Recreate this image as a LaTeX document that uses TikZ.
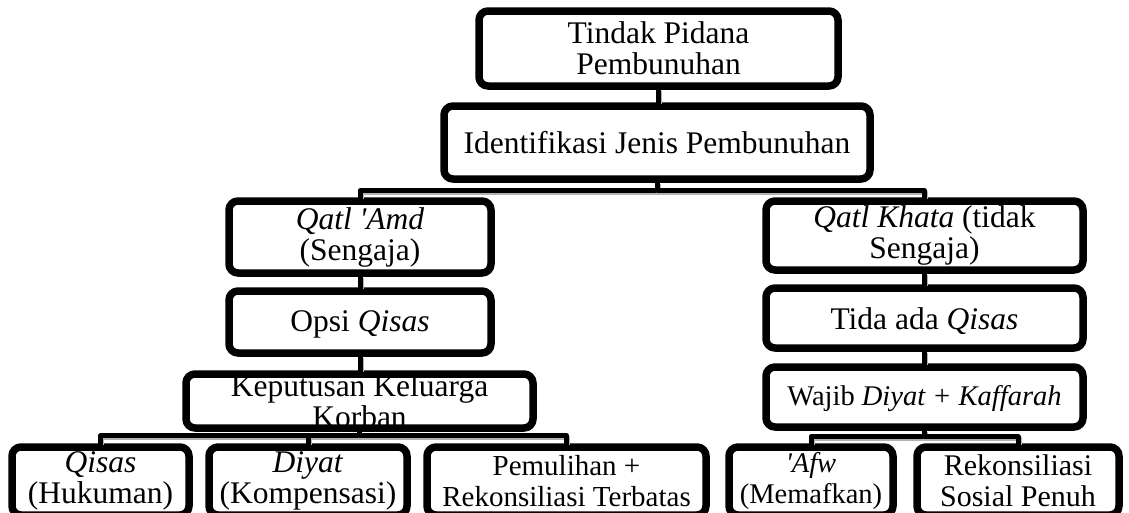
\documentclass[tikz,border=0pt]{standalone}
\usepackage{fontspec}
\setmainfont{Liberation Serif}
\usepackage{tikz}
\usetikzlibrary{shadows}

\tikzset{
  box/.style={draw, line width=7.5pt, rounded corners=9pt, fill=white, inner sep=0pt,
    drop shadow={shadow xshift=1.5pt, shadow yshift=-1.5pt, fill=black, opacity=0.3}},
  txt/.style={align=center, inner sep=0pt, font=\fontsize{31.5}{31}\selectfont},
  link/.style={line width=5pt, line cap=rect,
    preaction={draw, black!30, line width=5pt, transform canvas={shift={(1.2pt,-1.5pt)}}}}
}

\begin{document}
\begin{tikzpicture}[line join=round, x=1pt, y=-1pt]
\useasboundingbox (0,0) rectangle (1129,512);
\clip (0,0) rectangle (1129,512);

\node[box, minimum width=359pt, minimum height=75pt] (top) at (658.5,48.5) {};
\node[box, minimum width=426pt, minimum height=73pt] (ident) at (657,142.5) {};
\node[box, minimum width=262pt, minimum height=72pt] (amd) at (360,237) {};
\node[box, minimum width=262pt, minimum height=62pt] (opsi) at (360,322) {};
\node[box, minimum width=347pt, minimum height=54pt] (kep) at (359.5,401) {};
\node[box, minimum width=317pt, minimum height=69pt] (khata) at (924.5,235.5) {};
\node[box, minimum width=317pt, minimum height=60pt] (tida) at (924.5,318) {};
\node[box, minimum width=317pt, minimum height=60pt] (wajib) at (924.5,397) {};
\node[box, minimum width=177pt, minimum height=68pt] (qisas) at (100.5,481) {};
\node[box, minimum width=198pt, minimum height=68pt] (diyat) at (308,481) {};
\node[box, minimum width=279pt, minimum height=68pt] (pulih) at (566.5,481) {};
\node[box, minimum width=164pt, minimum height=68pt] (afw) at (811,481) {};
\node[box, minimum width=202pt, minimum height=68pt] (rekon) at (1018,481) {};

\draw[link] (top.south) -- (top.south |- ident.north);
\draw[link] (ident.south) -- ++(0,8) -| (amd.north);
\draw[link] (ident.south) -- ++(0,8) -| (khata.north);
\draw[link] (amd.south) -- (opsi.north);
\draw[link] (opsi.south) -- (opsi.south |- kep.north);
\draw[link] (kep.south) -- ++(0,4) -| (qisas.north);
\draw[link] (kep.south) -- ++(0,4) -| (diyat.north);
\draw[link] (kep.south) -- ++(0,4) -| (pulih.north);
\draw[link] (khata.south) -- (tida.north);
\draw[link] (tida.south) -- (wajib.north);
\draw[link] (wajib.south) -- ++(0,6) -| (afw.north);
\draw[link] (wajib.south) -- ++(0,6) -| (rekon.north);

\node[txt] (topT) at (top) {Tindak Pidana\\Pembunuhan};
\node[txt] (identT) at (ident) {Identifikasi Jenis Pembunuhan};
\node[txt] (amdT) at (amd) {\textit{Qatl \textquotesingle Amd}\\(Sengaja)};
\node[txt] (opsiT) at ([yshift=-2pt]opsi) {Opsi \textit{Qisas}};
\node[txt] (kepT) at (kep) {Keputusan Keluarga\\Korban};
\node[txt] (khataT) at (khata) {\textit{Qatl Khata} (tidak\\Sengaja)};
\node[txt] (tidaT) at ([yshift=-3pt]tida) {Tida ada \textit{Qisas}};
\node[txt, font=\fontsize{28.5}{31}\selectfont] (wajibT) at ([yshift=-2pt]wajib) {Wajib \textit{Diyat + Kaffarah}};
\node[txt] (qisasT) at (qisas) {\textit{Qisas}\\(Hukuman)};
\node[txt] (diyatT) at (diyat) {\textit{Diyat}\\(Kompensasi)};
\node[txt, font=\fontsize{29}{31}\selectfont] (pulihT) at (pulih) {Pemulihan +\\Rekonsiliasi Terbatas};
\node[txt, font=\fontsize{28.5}{31}\selectfont] (afwT) at (afw) {\textit{\textquotesingle Afw}\\(Memafkan)};
\node[txt, font=\fontsize{30}{31}\selectfont] (rekonT) at (rekon) {Rekonsiliasi\\Sosial Penuh};
\end{tikzpicture}
\end{document}
